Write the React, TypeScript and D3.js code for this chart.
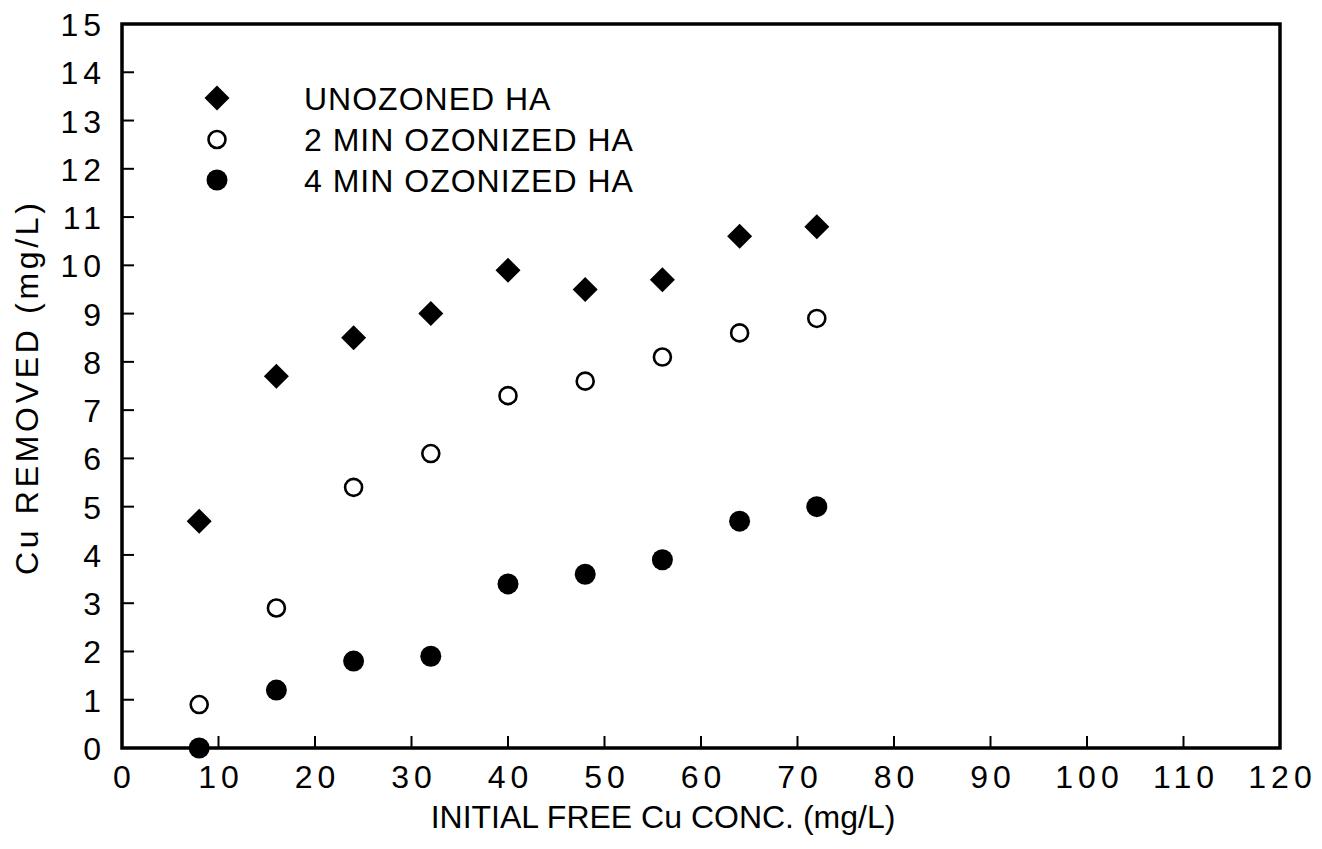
import React from "react";
import * as d3 from "d3";

const xValues = [8, 16, 24, 32, 40, 48, 56, 64, 72];
const unozoned = [4.7, 7.7, 8.5, 9.0, 9.9, 9.5, 9.7, 10.6, 10.8];
const ozon2 = [0.9, 2.9, 5.4, 6.1, 7.3, 7.6, 8.1, 8.6, 8.9];
const ozon4 = [0.0, 1.2, 1.8, 1.9, 3.4, 3.6, 3.9, 4.7, 5.0];
const xTicks = [0, 10, 20, 30, 40, 50, 60, 70, 80, 90, 100, 110, 120];
const yTicks = [0, 1, 2, 3, 4, 5, 6, 7, 8, 9, 10, 11, 12, 13, 14, 15];
const legendLabels = ["UNOZONED HA", "2 MIN OZONIZED HA", "4 MIN OZONIZED HA"];

const W = 1322, H = 849;
const L = 122, R = 1280, T = 24, B = 748;
const FONT = "'Liberation Sans', Arial, sans-serif";
const LS = 5;

function Marker({ kind, x, y }: { kind: number; x: number; y: number }) {
  if (kind === 0) {
    const s = 12.5;
    return <path d={`M${x},${y - s}L${x + s},${y}L${x},${y + s}L${x - s},${y}Z`} fill="#000" />;
  }
  if (kind === 1) return <circle cx={x} cy={y} r={8.5} fill="#fff" stroke="#000" strokeWidth={2.6} />;
  return <circle cx={x} cy={y} r={10.5} fill="#000" />;
}

export default function App() {
  const x = d3.scaleLinear().domain([0, 120]).range([L, R]);
  const y = d3.scaleLinear().domain([0, 15]).range([B, T]);
  const series = [unozoned, ozon2, ozon4];
  const legendPos = [98, 139.5, 180];
  return (
    <svg width={W} height={H} style={{ position: "absolute", left: 0, top: 0, background: "#fff" }}>
      <rect x={0} y={0} width={W} height={H} fill="#fff" />
      {xTicks.slice(1, -1).map((t) => (
        <line key={"xt" + t} x1={x(t)} x2={x(t)} y1={B} y2={B - 12} stroke="#000" strokeWidth={2} />
      ))}
      {yTicks.slice(1, -1).map((t) => (
        <line key={"yt" + t} x1={L} x2={L + 12} y1={y(t)} y2={y(t)} stroke="#000" strokeWidth={2} />
      ))}
      <rect x={L} y={T} width={R - L} height={B - T} fill="none" stroke="#000" strokeWidth={3.5} />
      {xTicks.map((t) => (
        <text key={"xl" + t} x={x(t) + LS / 2} y={788} textAnchor="middle" fontFamily={FONT} fontSize={32} letterSpacing={LS}>
          {t}
        </text>
      ))}
      {yTicks.map((t) => (
        <text key={"yl" + t} x={101 + LS} y={y(t) + 12} textAnchor="end" fontFamily={FONT} fontSize={32} letterSpacing={LS}>
          {t}
        </text>
      ))}
      <text x={663} y={828} textAnchor="middle" fontFamily={FONT} fontSize={32}>
        INITIAL FREE Cu CONC. (mg/L)
      </text>
      <text
        transform={`translate(38,389) rotate(-90)`}
        textAnchor="middle"
        fontFamily={FONT}
        fontSize={32}
        textLength={372}
        lengthAdjust="spacing"
      >
        Cu REMOVED (mg/L)
      </text>
      {series.map((s, k) =>
        s.map((v, i) => <Marker key={k + "-" + i} kind={k} x={x(xValues[i])} y={y(v)} />)
      )}
      {legendLabels.map((lab, k) => (
        <g key={"lg" + k}>
          <Marker kind={k} x={217} y={legendPos[k]} />
          <text x={304} y={legendPos[k] + 11.5} fontFamily={FONT} fontSize={32} letterSpacing={1}>
            {lab}
          </text>
        </g>
      ))}
    </svg>
  );
}
